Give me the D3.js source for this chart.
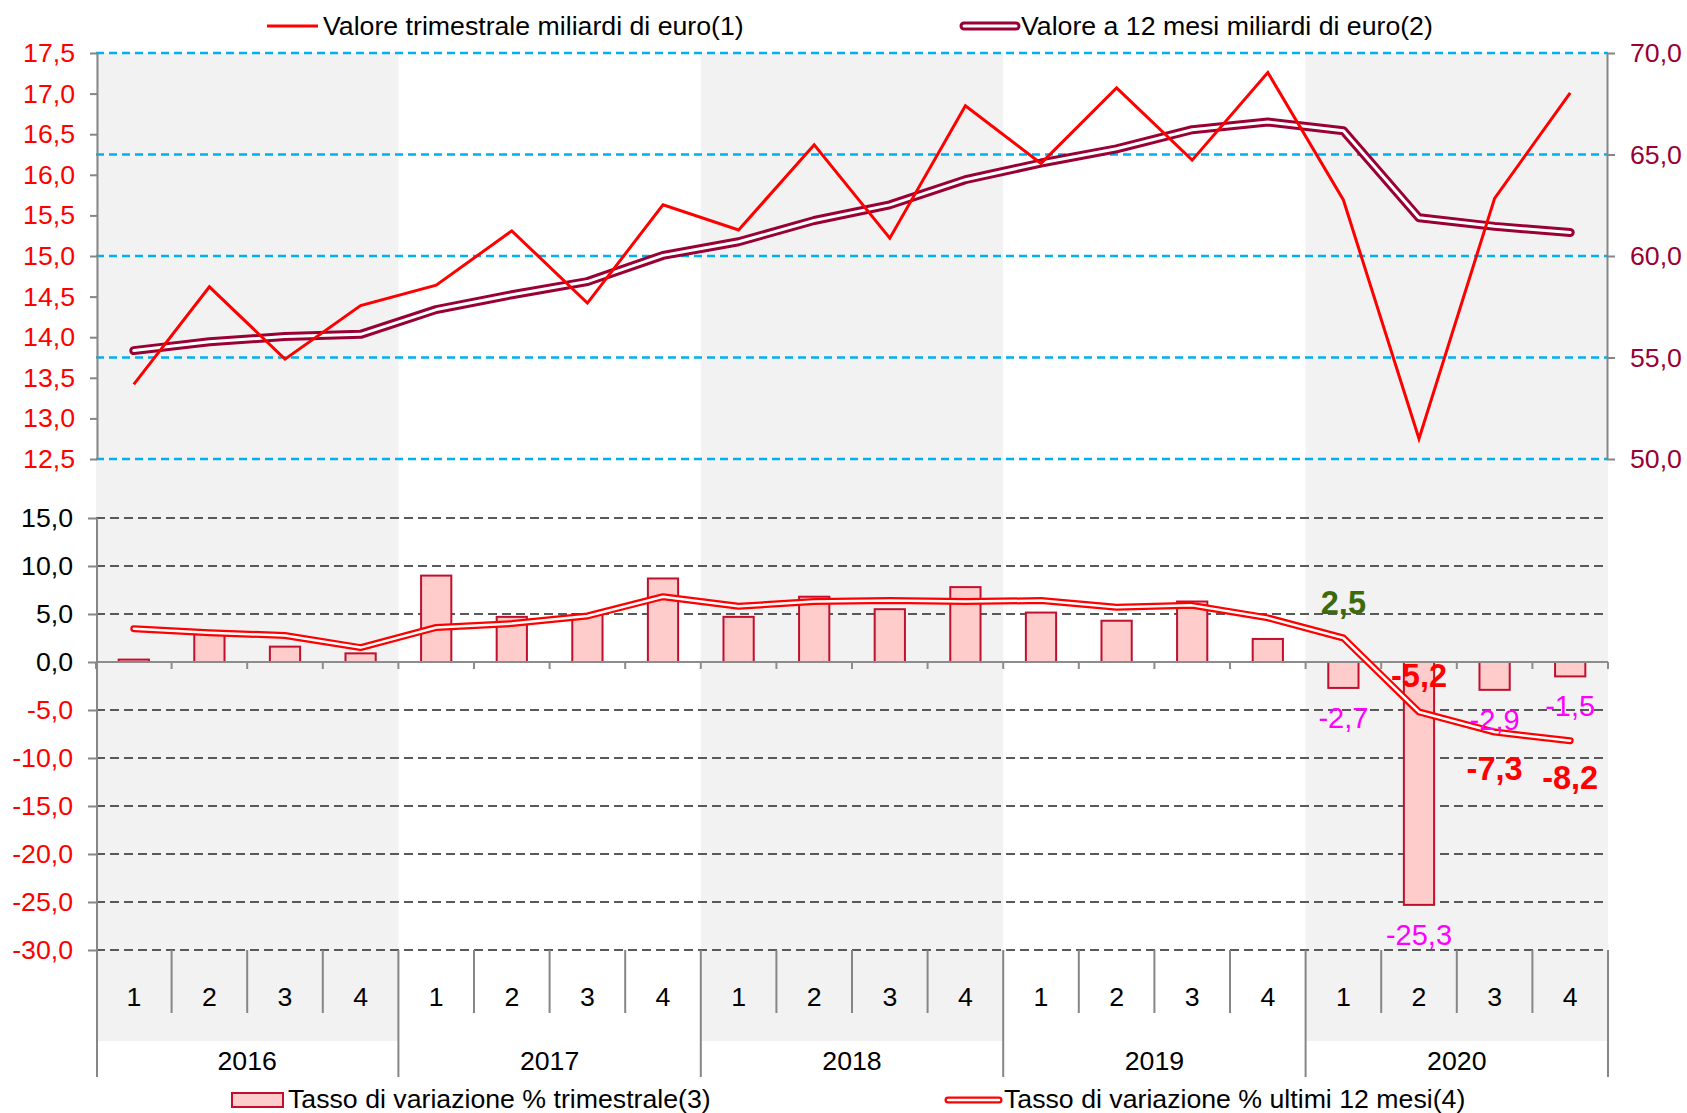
<!DOCTYPE html>
<html>
<head>
<meta charset="utf-8">
<script src="https://cdn.jsdelivr.net/npm/d3@7"></script>
<style>
  body { margin: 0; background: #fff; }
  text { font-family: "Liberation Sans", Arial, sans-serif; }
</style>
</head>
<body>
<div id="chart"></div>
<script>
// dati
var years = ["2016", "2017", "2018", "2019", "2020"];
var quarters = ["1", "2", "3", "4"];
var valoreTrim = [13.42, 14.62, 13.73, 14.39, 14.64, 15.31, 14.42, 15.63, 15.32, 16.37,
                  15.22, 16.85, 16.14, 17.07, 16.18, 17.26, 15.69, 12.75, 15.71, 17.01];
var valore12 = [55.34, 55.78, 56.03, 56.14, 57.36, 58.09, 58.74, 60.03, 60.70, 61.75,
                62.52, 63.76, 64.58, 65.28, 66.22, 66.60, 66.17, 61.88, 61.46, 61.16];
var tassoTrim = [0.25, 3.2, 1.6, 0.9, 9.0, 4.7, 5.0, 8.7, 4.7, 6.8,
                 5.5, 7.8, 5.15, 4.3, 6.3, 2.4, -2.7, -25.3, -2.9, -1.5];
var tasso12 = [3.47, 3.05, 2.76, 1.5, 3.6, 4.0, 4.8, 6.8, 5.8, 6.3,
               6.4, 6.3, 6.4, 5.7, 5.9, 4.6, 2.5, -5.2, -7.3, -8.2];
var ticksLeftTop = [12.5, 13.0, 13.5, 14.0, 14.5, 15.0, 15.5, 16.0, 16.5, 17.0, 17.5];
var ticksRight = [50, 55, 60, 65, 70];
var ticksBottom = [-30, -25, -20, -15, -10, -5, 0, 5, 10, 15];
var legendTop = ["Valore trimestrale miliardi di euro(1)", "Valore a 12 mesi miliardi di euro(2)"];
var legendBottom = ["Tasso di variazione % trimestrale(3)", "Tasso di variazione % ultimi 12 mesi(4)"];
var labelledFrom = 16; // etichette sugli ultimi 4 trimestri

var W = 1687, H = 1113;
var FS = 26.7;
var n = valoreTrim.length;
var cats = d3.range(n);

var loc = d3.formatLocale({decimal: ",", thousands: ".", grouping: [3], currency: ["", "€"], minus: "-"});
var f1 = loc.format(".1f");

var svg = d3.select("#chart").append("svg").attr("width", W).attr("height", H);

var x = d3.scaleBand().domain(cats).range([96, 1608]);
var yTop = d3.scaleLinear().domain([12.5, 17.5]).range([459, 53]);
var yRight = d3.scaleLinear().domain([50, 70]).range([459, 53]);
var yBot = d3.scaleLinear().domain([-30, 15]).range([950, 518]);
var cx = function(i) { return x(i) + x.bandwidth() / 2; };

// sfondo grigio anni alterni
svg.selectAll("rect.bg").data(years).enter().append("rect")
    .attr("class", "bg")
    .attr("x", function(d, i) { return x(i * 4); })
    .attr("width", x.bandwidth() * 4)
    .attr("y", 53).attr("height", 1041 - 53)
    .attr("fill", function(d, i) { return i % 2 === 0 ? "#f2f2f2" : "none"; });

// griglia superiore (asse destro)
svg.selectAll("line.gtop").data(ticksRight).enter().append("line")
    .attr("x1", 96).attr("x2", 1608)
    .attr("y1", function(d) { return yRight(d); }).attr("y2", function(d) { return yRight(d); })
    .attr("stroke", "#00b0f0").attr("stroke-width", 2.5).attr("stroke-dasharray", "8,5");

// griglia inferiore
svg.selectAll("line.gbot").data(ticksBottom.filter(function(d) { return d !== 0; })).enter().append("line")
    .attr("x1", 96).attr("x2", 1608)
    .attr("y1", function(d) { return yBot(d); }).attr("y2", function(d) { return yBot(d); })
    .attr("stroke", "#595959").attr("stroke-width", 2).attr("stroke-dasharray", "9,5");

// barre
var bw = x.bandwidth() * 0.4;
svg.selectAll("rect.bar").data(tassoTrim).enter().append("rect")
    .attr("x", function(d, i) { return cx(i) - bw / 2; })
    .attr("width", bw)
    .attr("y", function(d) { return yBot(Math.max(0, d)); })
    .attr("height", function(d) { return Math.abs(yBot(d) - yBot(0)); })
    .attr("fill", "#ffcccc").attr("stroke", "#c0102e").attr("stroke-width", 2);

// asse dello zero con tacche
svg.append("line").attr("x1", 96).attr("x2", 1608)
    .attr("y1", yBot(0)).attr("y2", yBot(0))
    .attr("stroke", "#8c8c8c").attr("stroke-width", 2);
svg.selectAll("line.t0").data(d3.range(n + 1)).enter().append("line")
    .attr("x1", function(i) { return 96 + i * x.bandwidth(); })
    .attr("x2", function(i) { return 96 + i * x.bandwidth(); })
    .attr("y1", yBot(0)).attr("y2", yBot(0) + 7)
    .attr("stroke", "#8c8c8c").attr("stroke-width", 2);

// linea doppia
function doubleLine(g, data, xf, yf, color, wOut, wIn) {
  var line = d3.line().x(function(d, i) { return xf(i); }).y(function(d) { return yf(d); });
  g.append("path").datum(data).attr("d", line).attr("fill", "none")
      .attr("stroke", color).attr("stroke-width", wOut)
      .attr("stroke-linejoin", "round").attr("stroke-linecap", "round");
  g.append("path").datum(data).attr("d", line).attr("fill", "none")
      .attr("stroke", "#fff").attr("stroke-width", wIn)
      .attr("stroke-linejoin", "round").attr("stroke-linecap", "round");
}

doubleLine(svg.append("g"), valore12, cx, yRight, "#990033", 9, 3);
svg.append("path").datum(valoreTrim)
    .attr("d", d3.line().x(function(d, i) { return cx(i); }).y(function(d) { return yTop(d); }))
    .attr("fill", "none").attr("stroke", "#ff0000").attr("stroke-width", 3);

doubleLine(svg.append("g"), tasso12, cx, yBot, "#ff0000", 7, 2.5);

// etichette tasso 12 mesi
var lab12Off = [-24, -25, 48, 48];
var lab12Col = ["#3d6b0a", "#ff0000", "#ff0000", "#ff0000"];
svg.selectAll("text.l12").data(tasso12.slice(labelledFrom)).enter().append("text")
    .attr("x", function(d, i) { return cx(i + labelledFrom); })
    .attr("y", function(d, i) { return yBot(d) + lab12Off[i]; })
    .attr("text-anchor", "middle").attr("font-size", 32.5).attr("font-weight", "bold")
    .attr("fill", function(d, i) { return lab12Col[i]; })
    .text(function(d) { return f1(d); });

// etichette barre
svg.selectAll("text.lt").data(tassoTrim.slice(labelledFrom)).enter().append("text")
    .attr("x", function(d, i) { return cx(i + labelledFrom); })
    .attr("y", function(d) { return yBot(d) + 40; })
    .attr("text-anchor", "middle").attr("font-size", 29).attr("fill", "#ff00ff")
    .text(function(d) { return f1(d); });

// assi
function styleAxis(g, color) {
  g.select(".domain").attr("stroke", "#868686").attr("stroke-width", 2);
  g.selectAll(".tick line").attr("stroke", "#868686").attr("stroke-width", 2);
  g.selectAll(".tick text").attr("font-size", FS).attr("font-family", "Liberation Sans, Arial, sans-serif")
      .attr("fill", color);
}

var axL = svg.append("g").attr("transform", "translate(97,0)")
    .call(d3.axisLeft(yTop).tickValues(ticksLeftTop).tickFormat(f1).tickSize(7).tickSizeOuter(0).tickPadding(15));
styleAxis(axL, "#ff0000");

var axR = svg.append("g").attr("transform", "translate(1607,0)")
    .call(d3.axisRight(yRight).tickValues(ticksRight).tickFormat(f1).tickSize(8).tickSizeOuter(0).tickPadding(15));
styleAxis(axR, "#990033");

var axB = svg.append("g").attr("transform", "translate(97,0)")
    .call(d3.axisLeft(yBot).tickValues(ticksBottom).tickFormat(f1).tickSize(9).tickSizeOuter(0).tickPadding(15));
styleAxis(axB, "#000");
axB.select(".domain").remove();
axB.selectAll(".tick text").attr("fill", function(d) { return d < 0 ? "#ff0000" : "#000"; });
svg.append("line").attr("x1", 97).attr("x2", 97).attr("y1", yBot(15)).attr("y2", 1077)
    .attr("stroke", "#868686").attr("stroke-width", 2);

// asse categorie
svg.selectAll("line.sep").data(d3.range(1, n + 1)).enter().append("line")
    .attr("x1", function(i) { return 96 + i * x.bandwidth(); })
    .attr("x2", function(i) { return 96 + i * x.bandwidth(); })
    .attr("y1", yBot(-30))
    .attr("y2", function(i) { return i % 4 === 0 ? 1077 : 1013; })
    .attr("stroke", "#868686").attr("stroke-width", 2);

svg.selectAll("text.q").data(cats).enter().append("text")
    .attr("x", function(i) { return cx(i); }).attr("y", 1006)
    .attr("text-anchor", "middle").attr("font-size", FS).attr("fill", "#000")
    .text(function(i) { return quarters[i % 4]; });

svg.selectAll("text.yr").data(years).enter().append("text")
    .attr("x", function(d, i) { return x(i * 4) + x.bandwidth() * 2; }).attr("y", 1070)
    .attr("text-anchor", "middle").attr("font-size", FS).attr("fill", "#000")
    .text(function(d) { return d; });

// legenda superiore
svg.append("line").attr("x1", 267).attr("x2", 318).attr("y1", 26).attr("y2", 26)
    .attr("stroke", "#ff0000").attr("stroke-width", 3);
svg.append("text").attr("x", 323).attr("y", 35).attr("font-size", FS).text(legendTop[0]);
doubleLine(svg.append("g"), [0, 0], function(i) { return 964 + i * 52; }, function() { return 26; }, "#990033", 9, 3);
svg.append("text").attr("x", 1021).attr("y", 35).attr("font-size", FS).text(legendTop[1]);

// legenda inferiore
svg.append("rect").attr("x", 232).attr("y", 1093).attr("width", 51).attr("height", 14)
    .attr("fill", "#ffcccc").attr("stroke", "#c0102e").attr("stroke-width", 2);
svg.append("text").attr("x", 288).attr("y", 1108).attr("font-size", FS).text(legendBottom[0]);
doubleLine(svg.append("g"), [0, 0], function(i) { return 948 + i * 51; }, function() { return 1100; }, "#ff0000", 7, 2.5);
svg.append("text").attr("x", 1004).attr("y", 1108).attr("font-size", FS).text(legendBottom[1]);
</script>
</body>
</html>
